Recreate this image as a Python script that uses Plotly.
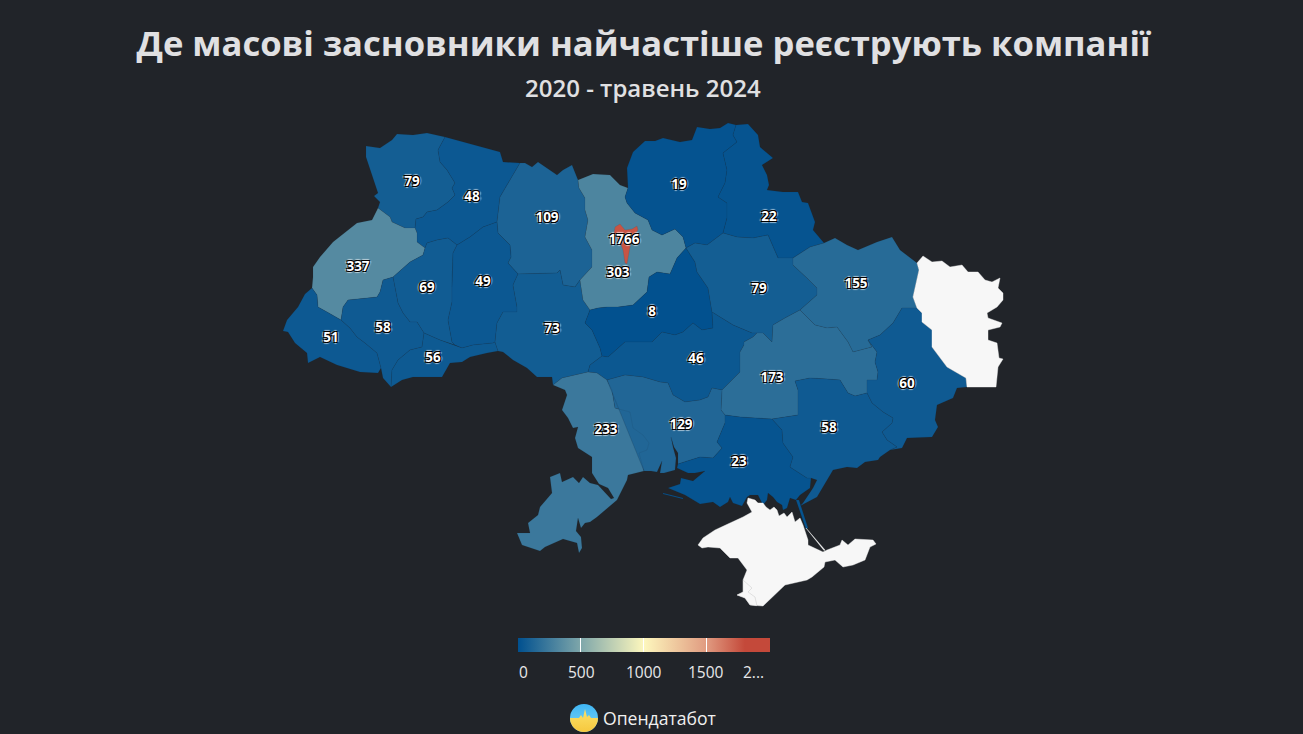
import base64
import plotly.graph_objects as go
from plotly.colors import sample_colorscale

# Values per region (2020 - May 2024)
REGIONS = ['Волинська', 'Рівненська', 'Житомирська', 'Львівська', 'Тернопільська', 'Хмельницька',
           'Закарпатська', 'Івано-Франківська', 'Чернівецька', 'Вінницька', 'Київська', 'Чернігівська',
           'Сумська', 'Черкаська', 'Полтавська', 'Харківська', 'Кіровоградська', 'Дніпропетровська',
           'Донецька', 'Одеська', 'Миколаївська', 'Херсонська', 'Запорізька', 'Київ']
VALUES = [79, 48, 109, 337, 69, 49, 51, 58, 56, 73, 303, 19, 22, 8, 79, 155, 46, 173, 60, 233, 129, 23, 58, 1766]
NO_DATA = ['Луганська', 'Крим', 'Севастополь']
CB_TICKS = [0, 500, 1000, 1500, 2000]
CB_LABELS = ['0', '500', '1000', '1500', '2...']

# Where each value sits, in picture pixels (same order as REGIONS)
LABEL_X = [412, 472, 547, 358, 427, 483, 331, 383, 433, 552, 618, 679, 769, 652, 759, 856, 696, 772, 907, 606, 681, 739, 829, 624]
LABEL_Y = [183, 198, 219, 268, 289, 283, 339, 329, 359, 330, 274, 186, 218, 313, 290, 285, 360, 379, 385, 431, 426, 463, 429, 241]

vol_out = [(378,208),(380,202),(374,196),(378,193),(372,175),(368,162),(366,157),(366,146),(380,148),(392,140),(397,134),(413,135),(427,133),(445,137)]
vol_riv = [(445,137),(438,150),(440,162),(447,170),(455,183),(452,188),(455,195),(448,202),(437,210),(427,212),(423,217),(416,219),(415,228)]
vol_lv = [(415,228),(405,228),(392,222),(390,217),(378,208)]
riv_out = [(445,137),(463,142),(483,148),(500,152),(503,162),(520,163)]
riv_zh = [(520,163),(510,180),(500,197),(497,222)]
riv_kh = [(497,222),(483,227),(470,237),(457,245)]
riv_te = [(457,245),(448,238),(437,240),(427,243),(425,248)]
riv_lv = [(425,248),(417,242),(417,233),(415,228)]
lv_out = [(312,288),(313,277),(313,267),(320,257),(333,242),(357,223),(372,220),(378,208)]
lv_te = [(425,248),(423,255),(410,262),(393,277)]
lv_if = [(393,277),(383,280),(380,292),(377,297),(348,300),(343,307),(341,320)]
lv_zk = [(341,320),(327,312),(318,307),(317,295),(312,288)]
zk_out = [(381,368),(378,373),(360,372),(337,365),(320,357),(308,363),(307,353),(295,343),(288,332),(283,331),(287,320),(298,307),(305,294),(312,288)]
zk_if = [(341,320),(350,328),(357,337),(365,343),(377,353),(381,368)]
te_if = [(393,277),(398,303),(403,313),(410,322),(417,322),(424,333)]
if_ch = [(424,333),(422,347),(410,350),(398,360),(392,370),(391,387)]
if_out = [(391,387),(383,378),(381,368)]
ch_te = [(424,333),(440,340),(455,345)]
ch_kh = [(455,345),(462,348),(473,345),(493,343),(495,342)]
ch_vn = [(495,342),(498,351)]
ch_out = [(498,351),(487,353),(470,357),(462,362),(450,363),(442,377),(413,377),(402,380),(391,387)]
te_kh = [(457,245),(453,253),(452,287),(452,302),(448,320),(452,342),(455,345)]
kh_zh = [(497,222),(498,233),(510,245),(511,257),(508,263),(518,274)]
kh_vn = [(518,274),(513,285),(517,307),(517,312),(503,312),(497,323),(495,342)]
zh_out = [(520,163),(525,163),(532,167),(538,162),(547,168),(557,175),(563,170),(572,165),(578,180)]
zh_ky = [(578,180),(579,188),(585,198),(585,210),(588,220),(585,237),(592,250),(592,267),(580,280)]
zh_vn = [(580,280),(575,287),(563,285),(560,270),(557,273),(518,274)]
vn_ky = [(580,280),(583,300),(590,310)]
vn_ck = [(590,310),(585,323),(592,330),(600,348),(602,356)]
vn_kr = [(602,356),(590,365),(588,372)]
vn_od = [(588,372),(562,378),(553,385)]
vn_out = [(553,385),(552,377),(537,377),(527,368),(513,360),(503,352),(498,351)]
ky_out = [(578,180),(593,174),(610,175),(620,185),(628,188)]
ky_cn = [(628,188),(625,197),(627,203),(635,213),(648,220),(652,230),(662,235),(675,229),(683,237),(686,248)]
ky_ck = [(686,248),(677,258),(670,274),(657,272),(649,277),(647,292),(633,305),(618,307),(607,307),(598,308),(590,310)]
cn_out = [(628,188),(627,168),(633,152),(645,141),(655,141),(663,138),(680,142),(692,140),(697,127),(710,129),(720,128),(728,123),(736,125)]
cn_su = [(736,125),(733,135),(737,142),(723,153),(727,170),(725,183),(718,197),(727,203),(727,218),(723,233)]
cn_po = [(723,233),(707,245),(695,243),(686,248)]
su_out = [(736,125),(748,124),(758,135),(760,147),(773,158),(762,165),(767,175),(769,185),(767,190),(783,192),(798,192),(802,202),(808,203),(815,222),(813,230),(824,243)]
su_kh = [(824,243),(810,247),(793,258)]
su_po = [(793,258),(778,258),(768,235),(753,238),(737,237),(723,233)]
po_kh = [(793,258),(793,265),(807,278),(817,288),(817,295),(800,310)]
po_dn = [(800,310),(785,318),(773,325),(772,342),(763,333),(757,333)]
po_kr = [(757,333),(752,333),(733,325),(712,312)]
po_ck = [(712,312),(708,288),(697,272),(695,262),(686,248)]
kh_out = [(824,243),(835,238),(847,245),(858,250),(877,242),(892,237),(900,250),(917,263)]
kh_lg = [(917,263),(919,270),(917,280),(913,297),(917,308)]
kh_do = [(917,308),(902,308),(893,323),(880,335),(868,340)]
kh_dn = [(868,340),(872,347),(853,352),(848,342),(837,327),(827,328),(815,325),(800,310)]
dn_do = [(868,340),(877,352),(875,362),(878,372),(877,380),(867,380),(867,393)]
dn_za = [(867,393),(855,396),(848,393),(840,380),(827,379),(810,378),(795,381),(798,390),(798,415),(772,419)]
dn_ks = [(772,419),(755,418),(740,417),(725,415)]
dn_my = [(725,415),(721,410),(722,390)]
dn_kr = [(722,390),(740,372),(740,352),(744,345),(744,342),(753,337),(757,333)]
kr_my = [(722,390),(712,388),(708,397),(700,400),(685,402),(673,395),(668,383),(660,382),(643,377),(625,375),(607,380)]
kr_od = [(607,380),(597,373),(588,372)]
kr_ck = [(602,356),(608,357),(625,342),(652,342),(662,332),(675,335),(683,332),(693,323),(702,330),(713,328),(712,312)]
od_out = [(553,385),(565,390),(567,395),(562,410),(568,418),(573,428),(578,427),(575,438),(578,448),(592,457),(592,473),(599,484),(608,488),(614,498),(611,499),(603,491),(598,485),(590,483),(583,477),(579,483),(573,477),(562,482),(560,473),(550,477),(552,493),(540,507),(538,515),(528,523),(530,533),(517,533),(522,545),(540,551),(545,547),(563,539),(577,543),(579,553),(582,548),(581,537),(576,531),(578,518),(581,528),(585,523),(590,522),(597,517),(617,500),(627,480),(628,475),(644,471)]
od_my = [(644,471),(639,453),(647,450),(649,443),(643,435),(633,428),(630,412),(615,408),(612,390),(607,380)]
my_ks = [(725,415),(725,423),(717,442),(722,448),(713,458),(700,457),(678,464)]
my_out = [(678,464),(678,453),(674,447),(671,437),(673,447),(676,458),(675,470),(664,473),(660,473),(662,461),(657,472),(651,471),(644,471)]
ks_za = [(772,419),(782,430),(783,443),(793,457),(790,467),(807,478),(811,478)]
ks_out = [(811,478),(810,488),(800,495),(796,500),(790,498),(787,508),(783,510),(782,505),(777,502),(773,497),(768,493),(767,500),(763,505),(758,495),(750,495),(747,497),(742,506),(733,503),(730,497),(728,502),(720,507),(713,502),(700,504),(685,495),(668,488),(680,484),(681,478),(693,481),(705,471),(695,473),(688,473),(677,468),(678,464)]
za_out = [(811,478),(817,480),(813,488),(803,503),(800,506),(817,497),(833,470),(847,467),(857,468),(865,462),(878,460),(880,457),(890,450)]
do_za = [(867,393),(872,403),(883,412),(893,418),(892,423),(882,432),(887,440),(897,447),(890,450)]
do_lg = [(917,308),(922,313),(922,322),(932,330),(932,347),(940,358),(947,367),(966,378),(967,387)]
do_out = [(967,387),(957,388),(953,398),(937,405),(935,420),(938,427),(932,437),(907,438),(902,448),(890,450)]
lg_out = [(917,263),(923,256),(932,262),(942,261),(950,267),(962,265),(968,272),(978,272),(985,280),(992,282),(1000,278),(998,288),(1003,293),(1003,300),(997,307),(987,313),(988,318),(1002,323),(1000,327),(988,330),(988,340),(997,343),(999,358),(1003,359),(998,367),(996,387),(967,387)]
crimea_out = [(748,498),(755,500),(758,503),(763,503),(766,507),(770,510),(774,507),(777,510),(779,516),(784,513),(787,517),(792,512),(795,522),(800,518),(803,525),(808,540),(808,545),(823,552),(827,550),(840,545),(842,540),(848,545),(855,539),(873,540),(876,544),(870,547),(865,560),(853,565),(843,567),(835,560),(825,562),(824,567),(812,577),(807,580),(785,585),(777,593),(763,606),(750,605),(745,598),(737,595),(743,592),(743,580),(747,570),(738,558),(730,558),(720,548),(708,547),(702,548),(698,545),(703,538),(715,530),(730,523),(743,517),(752,512),(747,503)]
sevastopol_out = [(743,580),(752,588),(748,592),(755,597),(757,606),(750,605),(745,598),(737,595),(743,592)]
kyiv_out = [(615,227),(620,224),(625,230),(632,229),(637,226),(638,230),(633,237),(630,247),(627,264),(625,263),(623,250),(620,242),(614,233)]
arabat_spit = [(796,500),(799,500),(808,528),(806,529)]
kinburn_spit = [(663,493),(683,498),(683,499),(663,494)]
kerch_bridge = [(806,528),(825,550),(824,550.5),(805.5,528.5)]


def r(seg):
    return seg[::-1]


OUTLINES = {
    'Волинська': [vol_out + vol_riv + vol_lv],
    'Рівненська': [r(vol_riv) + riv_out + riv_zh + riv_kh + riv_te + riv_lv],
    'Житомирська': [r(riv_zh) + zh_out + zh_ky + zh_vn + r(kh_zh)],
    'Львівська': [lv_out + r(vol_lv) + r(riv_lv) + lv_te + lv_if + lv_zk],
    'Тернопільська': [r(riv_te) + te_kh + r(ch_te) + r(te_if) + r(lv_te)],
    'Хмельницька': [r(riv_kh) + kh_zh + kh_vn + r(ch_kh) + r(te_kh)],
    'Закарпатська': [zk_out + r(lv_zk) + zk_if],
    'Івано-Франківська': [r(lv_if) + te_if + if_ch + if_out + r(zk_if)],
    'Чернівецька': [r(if_ch) + ch_te + ch_kh + ch_vn + ch_out],
    'Вінницька': [r(zh_vn) + vn_ky + vn_ck + vn_kr + vn_od + vn_out + r(ch_vn) + r(kh_vn)],
    'Київська': [ky_out + ky_cn + ky_ck + r(vn_ky) + r(zh_ky)],
    'Чернігівська': [cn_out + cn_su + cn_po + r(ky_cn)],
    'Сумська': [su_out + su_kh + su_po + r(cn_su)],
    'Черкаська': [r(po_ck) + r(kr_ck) + r(vn_ck) + r(ky_ck)],
    'Полтавська': [r(cn_po) + r(su_po) + po_kh + po_dn + po_kr + po_ck],
    'Харківська': [kh_out + kh_lg + kh_do + kh_dn + r(po_kh) + r(su_kh)],
    'Кіровоградська': [r(po_kr) + r(dn_kr) + kr_my + kr_od + r(vn_kr) + kr_ck],
    'Дніпропетровська': [r(po_dn) + r(kh_dn) + dn_do + dn_za + dn_ks + dn_my + dn_kr],
    'Донецька': [r(kh_do) + do_lg + do_out + r(do_za) + r(dn_do)],
    'Одеська': [od_out + od_my + kr_od + vn_od],
    'Миколаївська': [r(kr_my) + r(dn_my) + my_ks + my_out + r(od_my)],
    'Херсонська': [r(my_ks) + r(dn_ks) + ks_za + ks_out, arabat_spit, kinburn_spit],
    'Запорізька': [dn_za + ks_za + za_out + r(do_za)],
    'Київ': [kyiv_out],
    'Луганська': [lg_out + r(do_lg) + r(kh_lg)],
    'Крим': [crimea_out, kerch_bridge],
    'Севастополь': [sevastopol_out],
}

W, H = 1303, 734
ZMAX = 2008
BG = '#212429'
scale = [[0, '#00508f'], [0.25, '#7fa7aa'], [0.5, '#fdf7bd'], [0.75, '#e09a80'], [0.9, '#c4493a'], [1, '#c4493a']]


def add_region(fig, name, fill, line, width=0.5):
    xs, ys = [], []
    for part in OUTLINES[name]:
        pts = part + part[:1]
        xs += [p[0] for p in pts] + [None]
        ys += [p[1] for p in pts] + [None]
    fig.add_trace(go.Scatter(x=xs, y=ys, mode='lines', fill='toself', fillcolor=fill,
                             line=dict(color=line, width=width), name=name,
                             hoverinfo='name', showlegend=False))


fig = go.Figure()

# geo subplots want a topojson from the CDN, so the map is drawn as filled shapes
for name, value in zip(REGIONS, VALUES):
    colour = sample_colorscale(scale, value / ZMAX)[0]
    add_region(fig, name, colour, 'rgba(20,40,60,0.2)')
for name in NO_DATA:
    add_region(fig, name, '#f7f7f7', '#f7f7f7' if name != 'Севастополь' else 'rgba(150,150,150,0.6)', 0.4)

# invisible markers only carry the colorbar
fig.add_trace(go.Scatter(
    x=LABEL_X, y=LABEL_Y, mode='markers', hoverinfo='skip', showlegend=False,
    marker=dict(color=VALUES, cmin=0, cmax=ZMAX, colorscale=scale, size=1, opacity=0, showscale=True,
                colorbar=dict(orientation='h', thickness=14, len=252 / W, lenmode='fraction',
                              x=518 / W, xanchor='left', y=1 - 638 / H, yanchor='top',
                              xpad=0, ypad=0, outlinewidth=0, tickmode='array', tickvals=CB_TICKS,
                              ticks='inside', ticklen=14, tickwidth=1, tickcolor='#ffffff',
                              showticklabels=False)),
))

shadow = ('1px 1px 0 #000, -1px -1px 0 #000, 1px -1px 0 #000, -1px 1px 0 #000, '
          '2px 0 1px rgba(255,255,255,.6), -2px 0 1px rgba(255,255,255,.6), '
          '0 2px 1px rgba(255,255,255,.6), 0 -2px 1px rgba(255,255,255,.6)')
fig.add_trace(go.Scatter(
    x=LABEL_X, y=LABEL_Y, text=[str(v) for v in VALUES], mode='text', hoverinfo='skip', showlegend=False,
    textfont=dict(family='Open Sans', size=13.5, color='#ffffff', weight='bold', shadow=shadow),
))

fig.update_xaxes(range=[0, W], visible=False, fixedrange=True)
fig.update_yaxes(range=[H, 0], visible=False, fixedrange=True)

# colorbar tick labels ("2..." is cut short in the original, so they are placed by hand)
CB_LABEL_X = [523, 581, 644, 706, 753]
annotations = [dict(text=t, x=x / W, y=1 - 672 / H, xref='paper', yref='paper', xanchor='center', yanchor='middle',
                    showarrow=False, font=dict(family='Open Sans', size=15.5, color='#e8e8ea'))
               for t, x in zip(CB_LABELS, CB_LABEL_X)]
annotations.append(dict(text='2020 - травень 2024', x=643 / W, y=1 - 87 / H, xref='paper', yref='paper',
                        xanchor='center', yanchor='middle', showarrow=False,
                        font=dict(family='Open Sans', size=24, color='#e0e0e2', weight=600)))
annotations.append(dict(text='Опендатабот', x=601 / W, y=1 - 718 / H, xref='paper', yref='paper',
                        xanchor='left', yanchor='middle', showarrow=False,
                        font=dict(family='Open Sans', size=17.6, color='#f0f0f0')))

logo = ('<svg xmlns="http://www.w3.org/2000/svg" viewBox="0 0 28 28">'
        '<defs><linearGradient id="a" x1="0" y1="0" x2="0" y2="1"><stop offset="0" stop-color="#3fb6f5"/>'
        '<stop offset="1" stop-color="#7fd4f0"/></linearGradient>'
        '<linearGradient id="b" x1="0" y1="0" x2="0" y2="1"><stop offset="0" stop-color="#fbe26a"/>'
        '<stop offset="1" stop-color="#f6c83e"/></linearGradient></defs>'
        '<circle cx="14" cy="14" r="14" fill="url(#a)"/>'
        '<path d="M0 14 L9 14 L11 11 L13 14 L15 5 L17 13 L19 11 L21 14 L28 14 A14 14 0 0 1 0 14 Z" fill="url(#b)"/></svg>')
logo_src = 'data:image/svg+xml;base64,' + base64.b64encode(logo.encode()).decode()

# the two end ticks of the colorbar get lost at its edges, drawn here
end_ticks = [dict(type='line', xref='paper', yref='paper', x0=x / W, x1=x / W, y0=1 - 638 / H, y1=1 - 652 / H,
                  line=dict(color=c, width=1))
             for x, c in [(518.5, '#ffffff'), (769.5, '#bbbbbb')]]

fig.update_layout(
    width=W, height=H, margin=dict(l=0, r=0, t=0, b=0, autoexpand=False),
    paper_bgcolor=BG, plot_bgcolor=BG,
    title=dict(text='Де масові засновники найчастіше реєструють компанії', x=643.5 / W, xanchor='center',
               y=1 - 44 / H, yanchor='middle',
               font=dict(family='Open Sans', size=34.6, color='#e0e0e2', weight='bold')),
    annotations=annotations,
    shapes=end_ticks,
    images=[dict(source=logo_src, xref='paper', yref='paper', x=570 / W, y=1 - 704 / H,
                 sizex=28 / W, sizey=28 / H, xanchor='left', yanchor='top', layer='above')],
)

fig.write_html("out.html", config=dict(displayModeBar=False),
               post_script="document.body.style.margin='0';document.body.style.background='%s';document.documentElement.style.overflow='hidden';" % BG)
